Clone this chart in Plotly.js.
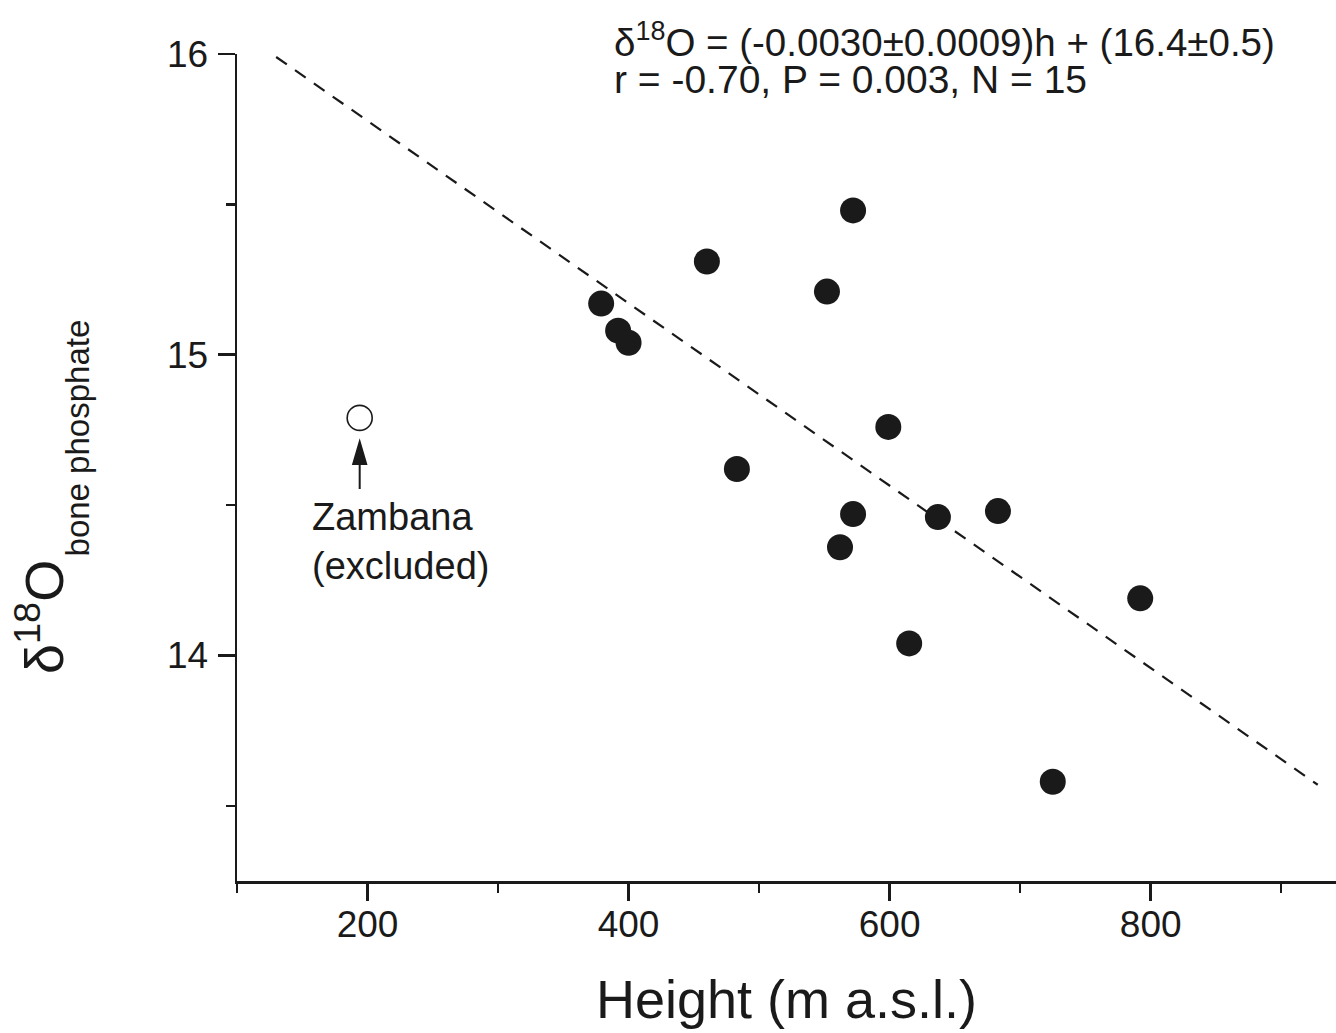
<!DOCTYPE html>
<html>
<head>
<meta charset="utf-8">
<script src="https://cdn.plot.ly/plotly-3.0.1.min.js"></script>
<style>html,body{margin:0;padding:0;background:#fff;}#chart{width:1336px;height:1033px;}</style>
</head>
<body>
<div id="chart"></div>
<script>
// Included sites: height (m a.s.l.) and δ18O of bone phosphate
const heights = [379, 392, 400, 460, 483, 552, 572, 572, 562, 599, 615, 637, 683, 725, 792];
const d18O    = [15.17, 15.08, 15.04, 15.31, 14.62, 15.21, 15.48, 14.47, 14.36, 14.76, 14.04, 14.46, 14.48, 13.58, 14.19];
// Excluded site (Zambana)
const excludedHeight = [194];
const excludedD18O = [14.79];
// Regression line endpoints
const fitX = [130, 928];
const fitY = [15.99, 13.57];
// Axis ticks
const xTicks = [200, 400, 600, 800];
const yTicks = [14, 15, 16];

const FONT = 'Liberation Sans, Arial, Helvetica, sans-serif';
const INK = '#1a1a1a';

const traces = [
  {x: fitX, y: fitY, mode: 'lines', type: 'scatter',
   line: {color: INK, width: 2.2, dash: '13px,10px'}, hoverinfo: 'skip'},
  {x: heights, y: d18O, mode: 'markers', type: 'scatter',
   marker: {color: INK, size: 26, line: {width: 0}}, cliponaxis: false},
  {x: excludedHeight, y: excludedD18O, mode: 'markers', type: 'scatter',
   marker: {color: '#ffffff', size: 25, line: {color: INK, width: 1.6}}, cliponaxis: false}
];

const layout = {
  width: 1336, height: 1033,
  margin: {l: 237, r: 0, t: 54, b: 152},
  paper_bgcolor: '#ffffff', plot_bgcolor: '#ffffff',
  showlegend: false,
  font: {family: FONT, color: INK, size: 37},
  xaxis: {
    range: [100, 942], showgrid: false, zeroline: false,
    showline: true, linecolor: INK, linewidth: 2.5,
    tickmode: 'array', tickvals: xTicks, ticktext: xTicks.map(String),
    ticks: 'outside', ticklen: 17, tickwidth: 2.5, tickcolor: INK,
    minor: {dtick: 100, tick0: 0, ticks: 'outside', ticklen: 9, tickwidth: 2.5, tickcolor: INK},
    tickfont: {family: FONT, size: 37, color: INK},
    ticklabelstandoff: -8,
    title: {text: 'Height (m a.s.l.)', font: {family: FONT, size: 54, color: INK}, standoff: 37}
  },
  yaxis: {
    range: [13.25, 16], showgrid: false, zeroline: false,
    showline: true, linecolor: INK, linewidth: 2.5,
    tickmode: 'array', tickvals: yTicks, ticktext: yTicks.map(String),
    ticks: 'outside', ticklen: 17, tickwidth: 2.5, tickcolor: INK,
    minor: {dtick: 0.5, tick0: 0, ticks: 'outside', ticklen: 9, tickwidth: 2.5, tickcolor: INK},
    tickfont: {family: FONT, size: 37, color: INK},
    ticklabelstandoff: 2
  },
  shapes: [
    {type: 'path', xref: 'x', yref: 'y', xsizemode: 'pixel', ysizemode: 'pixel',
     xanchor: excludedHeight[0], yanchor: excludedD18O[0],
     path: 'M0,-24 L-6.5,-46 L6.5,-46 Z M0,-46 L0,-71',
     fillcolor: INK, line: {color: INK, width: 2}}
  ],
  annotations: [
    {xref: 'paper', yref: 'paper', x: -0.1793, y: 0.3192, xanchor: 'center', yanchor: 'middle',
     textangle: -90, showarrow: false, text: 'δ<sup>18</sup>O',
     font: {family: FONT, size: 54, color: INK}},
    {xref: 'paper', yref: 'paper', x: -0.1456, y: 0.5363, xanchor: 'center', yanchor: 'middle',
     textangle: -90, showarrow: false, text: 'bone phosphate',
     font: {family: FONT, size: 33, color: INK}},
    {xref: 'paper', yref: 'paper', x: 0.341, y: 1.017, xanchor: 'left', yanchor: 'middle',
     showarrow: false, text: 'δ<sup>18</sup>O = (-0.0030±0.0009)h + (16.4±0.5)',
     font: {family: FONT, size: 38.5, color: INK}},
    {xref: 'paper', yref: 'paper', x: 0.341, y: 0.9686, xanchor: 'left', yanchor: 'middle',
     showarrow: false, text: 'r = -0.70, P = 0.003, N = 15',
     font: {family: FONT, size: 39, color: INK}},
    {xref: 'x', yref: 'y', x: 156, y: 14.38, xanchor: 'left', yanchor: 'middle',
     showarrow: false, align: 'left', text: 'Zambana<br>(excluded)',
     font: {family: FONT, size: 38, color: INK}}
  ]
};

Plotly.newPlot('chart', traces, layout, {displayModeBar: false, staticPlot: true});
</script>
</body>
</html>
